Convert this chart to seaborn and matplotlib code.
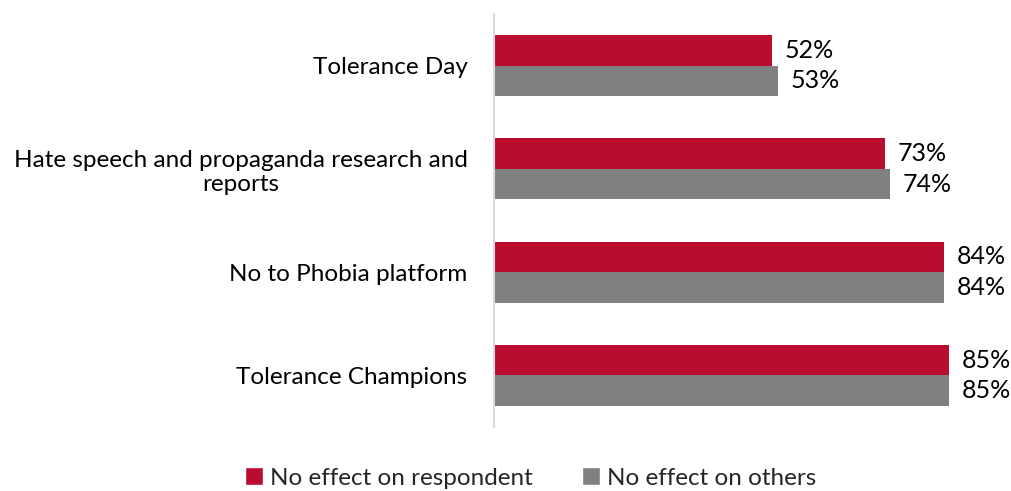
import matplotlib
matplotlib.use("Agg")
import matplotlib.pyplot as plt
import seaborn as sns
import pandas as pd
from matplotlib.patches import Patch

categories = ["Tolerance Day",
              "Hate speech and propaganda research and\nreports",
              "No to Phobia platform",
              "Tolerance Champions"]
series_names = ["No effect on respondent", "No effect on others"]
respondent = [52, 73, 84, 85]
others = [53, 74, 84, 85]
colors = ["#BA0C2F", "#808080"]

rows = []
for c, a, b in zip(categories, respondent, others):
    rows.append({"cat": c, "series": series_names[0], "val": a})
    rows.append({"cat": c, "series": series_names[1], "val": b})
df = pd.DataFrame(rows)

sns.set_theme(style="white")
plt.rcParams['font.family'] = ['Lato', 'DejaVu Sans']

fig = plt.figure(figsize=(10.11, 4.91), dpi=100)
ax = fig.add_axes([494/1011, 1-427/491, (1008-494)/1011, (427-14)/491])
sns.barplot(data=df, y="cat", x="val", hue="series", palette=colors,
            orient="h", width=0.59, ax=ax, legend=False, saturation=1,
            order=categories, hue_order=series_names, linewidth=0)
ax.set_xlim(0, 96)
ax.set_ylim(3.5, -0.5)
ax.set_xlabel("")
ax.set_ylabel("")
ax.set_xticks([])
for s in ["top", "right", "bottom"]:
    ax.spines[s].set_visible(False)
ax.spines["left"].set_color("#D9D9D9")
ax.spines["left"].set_linewidth(1.5)
ax.tick_params(axis="y", length=0, pad=19, labelsize=17.5, labelcolor="black")
for lab in ax.get_yticklabels():
    lab.set_horizontalalignment("right")
    lab.set_multialignment("center")

for cont in ax.containers:
    ax.bar_label(cont, labels=[f"{int(v)}%" for v in cont.datavalues],
                 padding=9, fontsize=18, color="black")

handles = [Patch(facecolor=colors[0]), Patch(facecolor=colors[1])]
fig.legend(handles, series_names, loc="lower center", ncol=2, frameon=False,
           fontsize=17.5, bbox_to_anchor=(0.525, -0.04), handlelength=0.75,
           handleheight=0.75, handletextpad=0.3, columnspacing=2.0)

fig.savefig("out.png", dpi=100)
